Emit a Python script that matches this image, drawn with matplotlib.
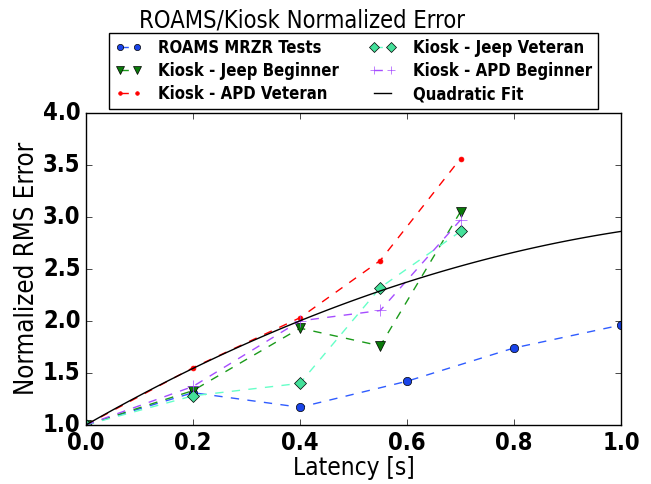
import numpy as np
import matplotlib
matplotlib.use('Agg')
import matplotlib.pyplot as plt

# latency sweep points and normalized RMS error per test group
roams_lat = [0.0, 0.2, 0.4, 0.6, 0.8, 1.0]
roams_err = [1.0, 1.31, 1.17, 1.42, 1.74, 1.96]

kiosk_lat = [0.0, 0.2, 0.4, 0.55, 0.7]
jeep_beg_err = [1.0, 1.33, 1.93, 1.76, 3.05]
apd_vet_err = [1.0, 1.55, 2.03, 2.58, 3.56]
jeep_vet_err = [1.0, 1.28, 1.40, 2.32, 2.86]
apd_beg_err = [1.0, 1.37, 2.00, 2.10, 2.97]

# quadratic fit coefficients (highest power first)
fit_coeffs = [-1.07, 2.93, 1.0]

plt.style.use('classic')
plt.rcParams['font.family'] = 'DejaVu Sans'
plt.rcParams['font.stretch'] = 'condensed'

fig = plt.figure(figsize=(6.51, 4.84), dpi=100)
ax = fig.add_axes([0.132, 0.122, 0.822, 0.645])

ax.plot(roams_lat, roams_err, '--', color='#2f5cff', marker='o', markerfacecolor='#1a44e8',
        markersize=6, label='ROAMS MRZR Tests')
ax.plot(kiosk_lat, jeep_beg_err, '--', color='#1a9a1a', marker='v', markerfacecolor='#0a7a0a',
        markersize=7, label='Kiosk - Jeep Beginner')
ax.plot(kiosk_lat, apd_vet_err, '--', color='red', marker='.', markeredgecolor='red',
        markersize=7, label='Kiosk - APD Veteran')
ax.plot(kiosk_lat, jeep_vet_err, '--', color='#66ffc8', marker='D', markerfacecolor='#44e09a',
        markersize=6.5, label='Kiosk - Jeep Veteran')
ax.plot(kiosk_lat, apd_beg_err, '--', color='#a64dff', marker='+', markeredgecolor='#a64dff',
        markersize=8, label='Kiosk - APD Beginner')

xs = np.linspace(0, 1, 100)
ax.plot(xs, np.polyval(fit_coeffs, xs), '-', color='black', label='Quadratic Fit')

ax.set_xlim(0, 1.0)
ax.set_ylim(1.0, 4.0)
ax.set_xticks([0.0, 0.2, 0.4, 0.6, 0.8, 1.0])
ax.set_yticks([1.0, 1.5, 2.0, 2.5, 3.0, 3.5, 4.0])
ax.tick_params(labelsize=17)
for lbl in ax.get_xticklabels() + ax.get_yticklabels():
    lbl.set_fontweight('bold')
ax.set_xlabel('Latency [s]', fontsize=17.5, labelpad=1)
ax.set_ylabel('Normalized RMS Error', fontsize=18.5, labelpad=2)

leg = ax.legend(loc='lower center', bbox_to_anchor=(0.5, 0.985), ncol=2,
                prop={'size': 12, 'weight': 'bold', 'stretch': 'condensed'},
                numpoints=2, markerscale=0.75,
                handlelength=1.6, borderpad=0.35, labelspacing=0.3,
                columnspacing=1.8, handletextpad=1.0)
fig.text(0.464, 0.957, 'ROAMS/Kiosk Normalized Error', ha='center', va='center',
         fontsize=17)

fig.savefig('out.png', dpi=100)
